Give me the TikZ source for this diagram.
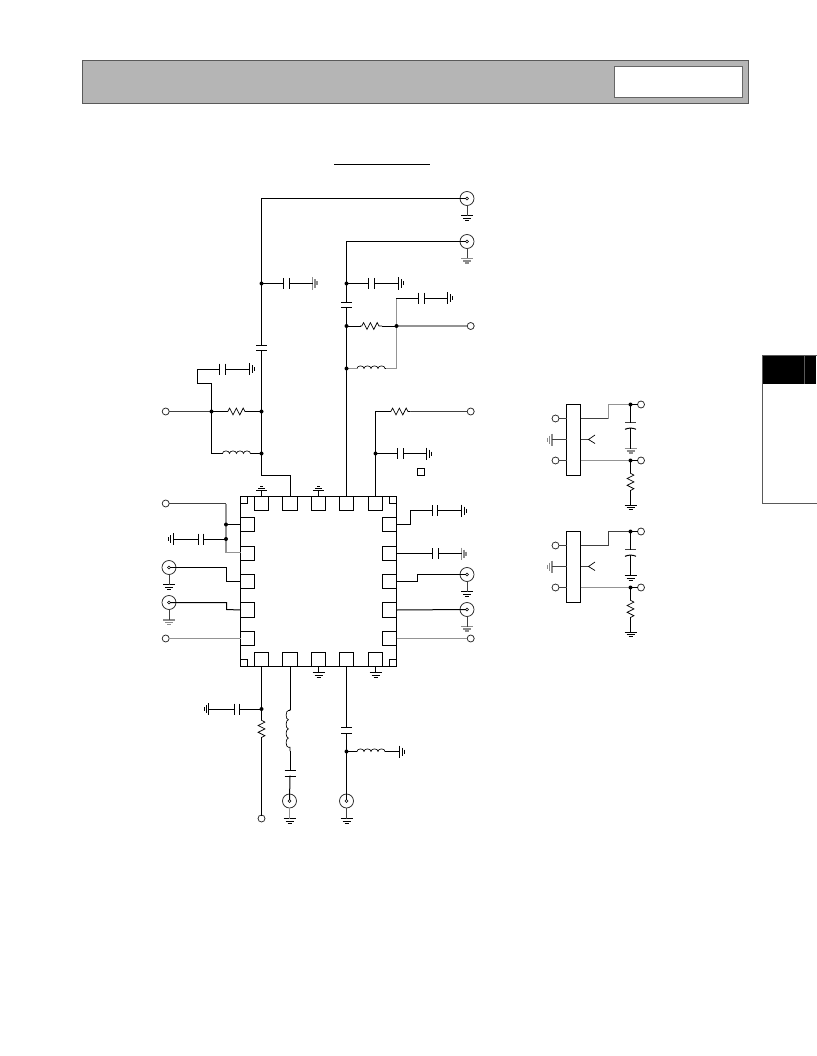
\documentclass[tikz,border=0pt]{standalone}
\tikzset{
  wire/.style={line width=1pt,color=black,line cap=rect},
  gw/.style={line width=1.4pt,color=black!42},
  mw/.style={line width=1pt,color=black!75},
  part/.style={line width=1pt,color=black},
  gpart/.style={line width=1.3pt,color=black!45},
  term/.style={circle,draw=black!85,line width=0.75pt,fill=white,minimum size=7pt,inner sep=0pt,outer sep=0pt},
  dotj/.style={circle,fill=black,minimum size=4pt,inner sep=0pt,outer sep=0pt},
  bnc/.style={circle,draw=black!85,line width=0.75pt,fill=white,minimum size=14pt,inner sep=0pt,outer sep=0pt},
  bnci/.style={circle,draw=black,line width=0.6pt,fill=white,minimum size=3pt,inner sep=0pt,outer sep=0pt},
  pin/.style={rectangle,draw=black,line width=1pt,minimum width=14pt,minimum height=14pt,inner sep=0pt,outer sep=0pt},
  lbox/.style={rectangle,draw=black,line width=1pt,fill=white,minimum width=14pt,minimum height=71pt,inner sep=0pt,outer sep=0pt},
}
% ground symbols: #1 name, #2 x, #3 y, #4 style
\newcommand\GndD[4]{\coordinate (#1) at (#2,#3);
  \draw[#4] (#2-6,#3) -- (#2+6,#3) (#2-4,#3+2.5) -- (#2+4,#3+2.5) (#2-2,#3+4.5) -- (#2+2,#3+4.5);}
\newcommand\GndU[4]{\coordinate (#1) at (#2,#3);
  \draw[#4] (#2-5.5,#3) -- (#2+5.5,#3) (#2-3.5,#3-2.5) -- (#2+3.5,#3-2.5) (#2-1.5,#3-4.5) -- (#2+1.5,#3-4.5);}
\newcommand\GndR[4]{\coordinate (#1) at (#2,#3);
  \draw[#4] (#2,#3-6) -- (#2,#3+6) (#2+2.5,#3-4) -- (#2+2.5,#3+4) (#2+4.5,#3-2) -- (#2+4.5,#3+2);}
\newcommand\GndL[4]{\coordinate (#1) at (#2,#3);
  \draw[#4] (#2,#3-6) -- (#2,#3+6) (#2-2.5,#3-4) -- (#2-2.5,#3+4) (#2-4.5,#3-2) -- (#2-4.5,#3+2);}
% capacitors: #1 name, #2 #3 plates, #4 other coordinate
\newcommand\Hcap[4]{\coordinate (#1a) at (#2,#4); \coordinate (#1b) at (#3,#4);
  \draw[part] (#2,#4-5.5) -- (#2,#4+5.5) (#3,#4-5.5) -- (#3,#4+5.5);}
\newcommand\Vcap[4]{\coordinate (#1a) at (#4,#2); \coordinate (#1b) at (#4,#3);
  \draw[part] (#4-5.5,#2) -- (#4+5.5,#2) (#4-5.5,#3) -- (#4+5.5,#3);}
% curved-plate capacitor of the small circuits
\newcommand\Ccap[4]{\coordinate (#1a) at (#4,#2); \coordinate (#1b) at (#4,#3);
  \draw[mw] (#4-5.5,#2) -- (#4+5.5,#2);
  \draw[part] (#4-5.5,#3+0.8) .. controls (#4-2,#3-0.8) and (#4+2,#3-0.8) .. (#4+5.5,#3+0.8);}
% resistors
\newcommand\Hres[4]{\coordinate (#1a) at (#2,#4); \coordinate (#1b) at (#3,#4);
  \draw[part,line join=miter,line width=0.7pt] (#2,#4) -- ++(1.8,0)
    -- ++(1.8,-3.4) -- ++(3.4,6.8) -- ++(3.4,-6.8) -- ++(3.4,6.8) -- ++(3.4,-6.8) -- ++(1.8,3.4) -- (#3,#4);}
\newcommand\Vres[4]{\coordinate (#1a) at (#4,#2); \coordinate (#1b) at (#4,#3);
  \draw[part,line join=miter,line width=0.7pt] (#4,#2) -- ++(0,1.8)
    -- ++(3.4,1.8) -- ++(-6.8,3.4) -- ++(6.8,3.4) -- ++(-6.8,3.4) -- ++(6.8,3.4) -- ++(-3.4,1.8) -- (#4,#3);}
% inductors
\newcommand\Hind[4]{\coordinate (#1a) at (#2,#4); \coordinate (#1b) at (#3,#4);
  \draw[part,line width=0.65pt] (#2,#4) -- ++(0.5,0) arc[start angle=180,end angle=0,x radius=3.5pt,y radius=2.6pt]
    arc[start angle=180,end angle=0,x radius=3.5pt,y radius=2.6pt]
    arc[start angle=180,end angle=0,x radius=3.5pt,y radius=2.6pt]
    arc[start angle=180,end angle=0,x radius=3.5pt,y radius=2.6pt] -- (#3,#4);}
\newcommand\Vind[4]{\coordinate (#1a) at (#4,#2); \coordinate (#1b) at (#4,#3);
  \draw[part,line width=0.65pt] (#4,#2) -- ++(0,1.5) -- ++(-1.6,0) arc[start angle=90,end angle=270,x radius=2.3pt,y radius=4.6pt]
    arc[start angle=90,end angle=270,x radius=2.3pt,y radius=4.6pt]
    arc[start angle=90,end angle=270,x radius=2.3pt,y radius=4.6pt]
    arc[start angle=90,end angle=270,x radius=2.3pt,y radius=4.6pt] -- ++(1.6,0) -- (#4,#3);}
\begin{document}
\begin{tikzpicture}[x=1pt,y=-1pt]
\useasboundingbox (0,0) rectangle (816,1056);
\fill[white] (0,0) rectangle (816,1056);
% header
\node[rectangle,draw=black!65,line width=0.9pt,fill=black!29,minimum width=666pt,minimum height=43pt,inner sep=0pt,outer sep=0pt] (hdr) at (415,81.5) {};
\node[rectangle,draw=black!60,line width=0.9pt,fill=white,minimum width=128.5pt,minimum height=30.5pt,inner sep=0pt,outer sep=0pt] (hbox) at (678.5,81.8) {};
% title rule
\coordinate (ula) at (334,164.5); \coordinate (ulb) at (430,164.5);
\draw[line width=1pt] (ula) -- (ulb);
% side tab
\node[rectangle,draw=black!65,line width=0.9pt,fill=white,minimum width=60pt,minimum height=148.5pt,inner sep=0pt,outer sep=0pt,anchor=north west] (tab) at (762.5,355) {};
\fill[black] (762.5,355.5) rectangle (816,383.5);
\draw[black!65,line width=0.8pt] (804.5,355.5) -- (804.5,383.5);
% chip
\node[rectangle,draw=black,line width=1pt,minimum width=156pt,minimum height=170pt,inner sep=0pt,outer sep=0pt] (chip) at (318.5,581.5) {};
\foreach \n/\x/\w in {1/261.5/14,2/290/15,3/318.5/14,4/346.5/14,5/375.5/14}{
  \node[pin,minimum width=\w pt] (T\n) at (\x,503.5) {};
  \node[pin,minimum width=\w pt] (B\n) at (\x,659.5) {};
}
\foreach \n/\y/\h in {1/524.5/14,2/553.5/14,3/581.5/14,4/610/15,5/638.5/14}{
  \node[pin,minimum height=\h pt] (L\n) at (247.5,\y) {};
  \node[pin,minimum height=\h pt] (R\n) at (389.5,\y) {};
}
\node[pin,minimum size=7pt] (cTL) at (244,500) {};
\node[pin,minimum size=7pt] (cTR) at (393,500) {};
\node[pin,minimum size=7pt] (cBL) at (244,663) {};
\node[pin,minimum size=7pt] (cBR) at (393,663) {};
% small square
\node[rectangle,draw=black,line width=0.8pt,minimum size=6.5pt,inner sep=0pt,outer sep=0pt] (sq) at (421,472) {};

% ---- terminals and connectors
\node[bnc] (J1) at (467,198.5) {}; \node[bnci] (J1i) at (J1.center) {};
\node[bnc] (J2) at (467,241.5) {}; \node[bnci] (J2i) at (J2.center) {};
\node[bnc] (J3) at (169,567.5) {}; \node[bnci] (J3i) at (J3.center) {};
\node[bnc] (J4) at (169,602.5) {}; \node[bnci] (J4i) at (J4.center) {};
\node[bnc] (J5) at (467,574.5) {}; \node[bnci] (J5i) at (J5.center) {};
\node[bnc] (J6) at (467,609.5) {}; \node[bnci] (J6i) at (J6.center) {};
\node[bnc] (J7) at (289.5,801) {}; \node[bnci] (J7i) at (J7.center) {};
\node[bnc] (J8) at (346.5,801) {}; \node[bnci] (J8i) at (J8.center) {};
\node[term] (P1) at (470.7,326) {};
\node[term] (P2) at (470.7,411.5) {};
\node[term] (P3) at (165.7,411.5) {};
\node[term] (P4) at (165.7,503.5) {};
\node[term] (P5) at (165.7,638.5) {};
\node[term] (P6) at (470.7,638.5) {};
\node[term] (P7) at (261.5,818.5) {};

% --- net from J1 to T2
\coordinate (dAc) at (261.5,283.5);
\Hcap{c1}{283.5}{289.5}{283.5}
\GndR{g1}{312.5}{283.5}{gpart}
\Vcap{c2}{345}{350.5}{261.5}
\coordinate (k1) at (261.5,198.5);
\coordinate (k2) at (261.5,475.5);
\coordinate (dBc) at (261.5,411.5);
\coordinate (dCc) at (261.5,453.5);
\coordinate (dDc) at (211.5,411.5);
\draw[wire] (J1i) -- (k1) -- (dAc) -- (c2a);
\draw[wire] (c2b) -- (dBc) -- (dCc) -- (k2) -| (T2.north);
\draw[wire] (dAc) -- (c1a);
\draw[wire] (c1b) -- (g1);
% --- left resistor and inductor net
\Hres{r1}{226}{247.5}{411.5}
\Hind{l1}{222}{251}{453.5}
\Hcap{c3}{219.5}{225.5}{369}
\GndR{g2}{249.5}{369}{part}
\coordinate (k3) at (211.5,383.5);
\coordinate (k4) at (197.5,383.5);
\coordinate (k5) at (197.5,369);
\coordinate (k6) at (212,453.5);
\draw[mw] (P3) -- (dDc);
\draw[wire] (dDc) -- (r1a);
\draw[wire] (r1b) -- (dBc);
\draw[wire] (k4) -- (k3) -- (dDc) -- (dDc |- k6) -- (l1a);
\draw[wire] (l1b) -- (dCc);
\draw[wire] (k4) -- (k5) -- (c3a);
\draw[wire] (c3b) -- (g2);
% --- net from J2 to T4
\coordinate (dEc) at (346.5,283.5);
\coordinate (dFc) at (346.5,326);
\coordinate (dGc) at (346.5,368.5);
\coordinate (dHc) at (396.5,326);
\Hcap{c4}{368.5}{374.5}{283.5}
\GndR{g3}{398.5}{283.5}{part}
\Vcap{c5}{302.5}{307.5}{346.5}
\coordinate (k7) at (346.5,241.5);
\draw[wire] (J2i) -- (k7) -- (dEc) -- (c5a);
\draw[wire] (c5b) -- (dFc) -- (dGc) -- (T4.north);
\draw[wire] (dEc) -- (c4a);
\draw[wire] (c4b) -- (g3);
\Hres{r2}{360}{382}{326}
\Hind{l2}{356.5}{386}{368.5}
\Hcap{c6}{418.5}{424}{298}
\GndR{g4}{447.5}{298}{part}
\coordinate (k8) at (396.5,298);
\coordinate (k9) at (396.5,368.5);
\draw[wire] (dFc) -- (r2a);
\draw[wire] (r2b) -- (dHc);
\draw[gw] (dHc) -- (P1);
\draw[gw] (k8) -- (dHc) -- (k9) -- (l2b);
\draw[wire] (k8) -- (c6a);
\draw[wire] (c6b) -- (g4);
\draw[gw] (dGc) -- (l2a);
% --- net from P2 to T5
\coordinate (dIc) at (375.5,453.5);
\Hres{r3}{389}{410.5}{411.5}
\Hcap{c7}{397.5}{403}{453.5}
\GndR{g5}{426.5}{453.5}{part}
\coordinate (k10) at (375.5,411.5);
\draw[mw] (r3b) -- (P2);
\draw[wire] (r3a) -- (k10) -- (dIc) -- (T5.north);
\draw[wire] (dIc) -- (c7a);
\draw[wire] (c7b) -- (g5);
% --- top grounds
\GndU{g6}{261.5}{490.5}{part}
\GndU{g7}{318.5}{490.5}{part}
\draw[wire] (g6) -- (T1.north);
\draw[wire] (g7) -- (T3.north);
% --- grounds of the upper connectors
\GndD{g8}{467}{216}{part}
\GndD{g9}{467}{258.5}{gpart}
\draw[mw] (J1) -- (g8);
\draw[mw] (J2) -- (g9);
% --- left side of chip
\coordinate (dJc) at (226,524.5);
\coordinate (dKc) at (226,539);
\coordinate (k11) at (226,503.5);
\coordinate (k12) at (226,552.5);
\Hcap{c8}{198.5}{203.5}{539}
\GndL{g10}{173}{539}{part}
\draw[mw] (P4) -- (k11);
\draw[gw] (k11) -- (dJc) -- (dKc) -- (k12) -- (k12 -| L2.west);
\draw[wire] (dJc) -- (L1.west);
\draw[wire] (dKc) -- (c8b);
\draw[wire] (c8a) -- (g10);
\coordinate (k13) at (226.5,567.5);
\coordinate (k14) at (226.5,581.5);
\coordinate (k15) at (226.5,602.5);
\coordinate (k16) at (226.5,609.5);
\draw[wire] (J3i) -- (k13) -- (k14) -- (L3.west);
\draw[wire] (J4i) -- (k15) -- (k16) -- (L4.west);
\GndD{g11}{169}{584.5}{part}
\GndD{g12}{169}{620}{gpart}
\draw[mw] (J3) -- (g11);
\draw[mw] (J4) -- (g12);
\draw[gw] (P5) -- (L5.west);
% --- right side of chip
\coordinate (k17) at (410.5,524.5);
\coordinate (k18) at (410.5,510.5);
\Hcap{c9}{432.5}{437.5}{510.5}
\GndR{g13}{461.5}{510.5}{part}
\draw[wire] (R1.east) -- (k17) -- (k18) -- (c9a);
\draw[wire] (c9b) -- (g13);
\Hcap{c10}{432.5}{438}{553.5}
\GndR{g14}{461.5}{553.5}{gpart}
\draw[wire] (R2.east) -- (c10a);
\draw[wire] (c10b) -- (g14);
\coordinate (k19) at (417.5,581.5);
\coordinate (k20) at (417.5,574.5);
\draw[wire] (R3.east) -- (k19) -- (k20) -- (J5i);
\draw[wire] (R4.east) -- (J6i);
\GndD{g15}{467}{591.5}{part}
\GndD{g16}{467}{626.5}{gpart}
\draw[mw] (J5) -- (g15);
\draw[mw] (J6) -- (g16);
\draw[gw] (R5.east) -- (P6);
% --- bottom of chip
\coordinate (dLc) at (261.5,709);
\coordinate (dMc) at (346.5,751.5);
\Hcap{c11}{234.5}{239.5}{709}
\GndL{g17}{208.5}{709}{part}
\Vres{r4}{718.5}{741}{261.5}
\draw[wire] (B1.south) -- (dLc) -- (r4a);
\draw[wire] (r4b) -- (P7);
\draw[wire] (dLc) -- (c11b);
\draw[wire] (c11a) -- (g17);
\Vind{l3}{709}{751}{290}
\Vcap{c12}{770.5}{776}{290}
\draw[wire] (B2.south) -- (l3a);
\draw[wire] (l3b) -- (c12a);
\draw[wire] (c12b) -- (J7i);
\GndD{g18}{289.5}{818.5}{part}
\draw[gw] (J7) -- (g18);
\GndD{g19}{318.5}{672.5}{part}
\draw[wire] (B3.south) -- (g19);
\GndD{g20}{375.5}{672.5}{part}
\draw[wire] (B5.south) -- (g20);
\Vcap{c13}{727.5}{733.5}{346.5}
\Hind{l4}{356.5}{386}{751.5}
\GndR{g21}{399.5}{751.5}{part}
\draw[wire] (B4.south) -- (c13a);
\draw[wire] (c13b) -- (dMc) -- (J8i);
\draw[wire] (dMc) -- (l4a);
\draw[wire] (l4b) -- (g21);
\GndD{g22}{346.5}{818.5}{part}
\draw[mw] (J8) -- (g22);

% junction dots, over the wires
\node[dotj] (dA) at (dAc) {};
\node[dotj] (dB) at (dBc) {};
\node[dotj] (dC) at (dCc) {};
\node[dotj] (dD) at (dDc) {};
\node[dotj] (dE) at (dEc) {};
\node[dotj] (dF) at (dFc) {};
\node[dotj] (dG) at (dGc) {};
\node[dotj] (dH) at (dHc) {};
\node[dotj] (dI) at (dIc) {};
\node[dotj] (dJ) at (dJc) {};
\node[dotj] (dK) at (dKc) {};
\node[dotj] (dL) at (dLc) {};
\node[dotj] (dM) at (dMc) {};

% --- small circuit 1
\node[lbox] (U1) at (573.5,440) {};
\node[term] (a1) at (555.5,418.5) {};
\node[term] (a2) at (555.5,460.5) {};
\node[term] (a3) at (641,404.5) {};
\node[term] (a4) at (641,460.5) {};
\coordinate (a5c) at (630.5,404.5);
\coordinate (a6c) at (630.5,460.5);
\GndL{a7}{552}{439.5}{gpart}
\draw[mw] (a1) -- (a1 -| U1.west);
\draw[mw] (a2) -- (a2 -| U1.west);
\draw[mw] (a7) -- (a7 -| U1.west);
\coordinate (a8) at (608.5,418.5);
\coordinate (a9) at (608.5,404.5);
\draw[mw] (U1.east |- a8) -- (a8);
\draw[gw] (a8) -- (a9) -- (a5c);
\draw[wire] (a5c) -- (a3);
\draw[gw] (U1.east |- a6c) -- (a6c);
\draw[wire] (a6c) -- (a4);
\coordinate (a10) at (588.5,439.5);
\draw[mw] (U1.east |- a10) -- (a10);
\draw[part,line width=0.7pt] (595,435) -- (a10) -- (595,443.5);
\Ccap{a11}{422.5}{428.5}{630.5}
\GndD{a12}{630.5}{448.5}{gpart}
\draw[wire] (a5c) -- (a11a);
\draw[wire] (a11b) -- (a12);
\Vres{a13}{471.5}{492}{630.5}
\GndD{a14}{630.5}{505}{part}
\draw[wire] (a6c) -- (a13a);
\draw[wire] (a13b) -- (a14);
\node[dotj] (a5) at (a5c) {};
\node[dotj] (a6) at (a6c) {};

% --- small circuit 2
\node[lbox] (U2) at (573.5,567) {};
\node[term] (b1) at (555.5,545.5) {};
\node[term] (b2) at (555.5,587.5) {};
\node[term] (b3) at (641,531.5) {};
\node[term] (b4) at (641,587.5) {};
\coordinate (b5c) at (630.5,531.5);
\coordinate (b6c) at (630.5,587.5);
\GndL{b7}{552}{566.5}{gpart}
\draw[mw] (b1) -- (b1 -| U2.west);
\draw[mw] (b2) -- (b2 -| U2.west);
\draw[mw] (b7) -- (b7 -| U2.west);
\coordinate (b8) at (608.5,545.5);
\coordinate (b9) at (608.5,531.5);
\draw[mw] (U2.east |- b8) -- (b8) -- (b9) -- (b5c);
\draw[wire] (b5c) -- (b3);
\draw[gw] (U2.east |- b6c) -- (b6c);
\draw[wire] (b6c) -- (b4);
\coordinate (b10) at (588.5,566.5);
\draw[mw] (U2.east |- b10) -- (b10);
\draw[part,line width=0.7pt] (595,562) -- (b10) -- (595,570.5);
\Ccap{b11}{549.5}{555.5}{630.5}
\GndD{b12}{630.5}{575.5}{part}
\draw[wire] (b5c) -- (b11a);
\draw[wire] (b11b) -- (b12);
\Vres{b13}{598.5}{619.5}{630.5}
\GndD{b14}{630.5}{632}{part}
\draw[wire] (b6c) -- (b13a);
\draw[wire] (b13b) -- (b14);
\node[dotj] (b5) at (b5c) {};
\node[dotj] (b6) at (b6c) {};
\end{tikzpicture}
\end{document}
